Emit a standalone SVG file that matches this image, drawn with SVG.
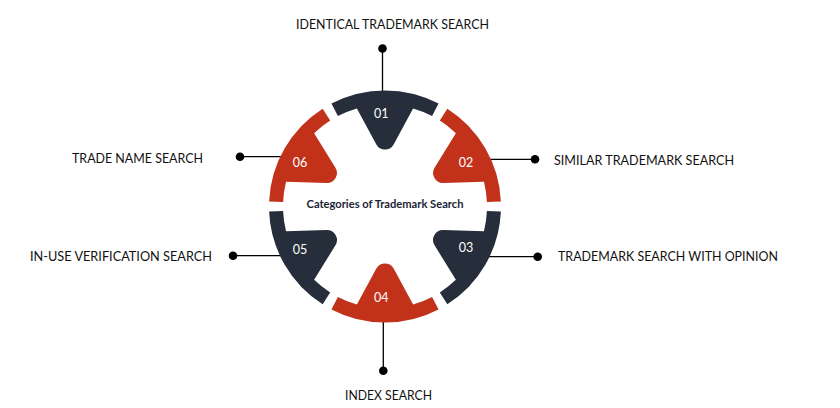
<svg xmlns="http://www.w3.org/2000/svg" width="840" height="408" viewBox="0 0 840 408">
  <defs>
    <style>
      .lbl { font-family: "Lato", "Liberation Sans", sans-serif; font-size: 13px; fill: #111111; }
      .num { font-family: "Lato", "Liberation Sans", sans-serif; font-size: 12.5px; fill: #ffffff; text-anchor: middle; }
      .title { font-family: "Lato", "Liberation Sans", sans-serif; font-size: 10.5px; font-weight: bold; fill: #1c2536; text-anchor: middle; }
      .lead { stroke: #000000; stroke-width: 1.3; fill: none; }
      .dot { fill: #000000; }
      .dark { fill: #262e3b; }
      .red { fill: #c2321b; }
    </style>
    <path id="seg" d="M -53.56,-102.9 A 116 116 0 0 1 53.56,-102.9 L 47.09,-90.47 A 102 102 0 0 0 28.1,-98.05 L 8.8,-62.3 A 10 10 0 0 1 -8.8,-62.3 L -28.1,-98.05 A 102 102 0 0 0 -47.09,-90.47 Z"/>
  </defs>
  <rect width="840" height="408" fill="#ffffff"/>

  <g id="connectors">
    <line class="lead" x1="382.5" y1="48.5" x2="382.5" y2="95"/>
    <circle class="dot" cx="382.5" cy="48.5" r="4.3"/>
    <line class="lead" x1="488" y1="159.3" x2="535" y2="159.3"/>
    <circle class="dot" cx="535" cy="159.3" r="4.3"/>
    <line class="lead" x1="488" y1="256.7" x2="537.7" y2="256.7"/>
    <circle class="dot" cx="537.7" cy="256.7" r="4.3"/>
    <line class="lead" x1="383.3" y1="318" x2="383.3" y2="370.7"/>
    <circle class="dot" cx="383.3" cy="370.7" r="4.3"/>
    <line class="lead" x1="233" y1="255.7" x2="281" y2="255.7"/>
    <circle class="dot" cx="233" cy="255.7" r="4.3"/>
    <line class="lead" x1="240" y1="156.7" x2="287" y2="156.7"/>
    <circle class="dot" cx="240" cy="156.7" r="4.3"/>
  </g>

  <g id="node-01">
    <use href="#seg" class="dark" transform="translate(385,206.5)"/>
    <text class="num" x="381.3" y="117.5">01</text>
    <text class="lbl" x="296" y="29" textLength="193" lengthAdjust="spacingAndGlyphs">IDENTICAL TRADEMARK SEARCH</text>
  </g>
  <g id="node-02">
    <use href="#seg" class="red" transform="translate(385,206.5) rotate(60)"/>
    <text class="num" x="466" y="166.7">02</text>
    <text class="lbl" x="554" y="164.5" textLength="180" lengthAdjust="spacingAndGlyphs">SIMILAR TRADEMARK SEARCH</text>
  </g>
  <g id="node-03">
    <use href="#seg" class="dark" transform="translate(385,206.5) rotate(120)"/>
    <text class="num" x="466" y="251.7">03</text>
    <text class="lbl" x="558" y="260.5" textLength="220" lengthAdjust="spacingAndGlyphs">TRADEMARK SEARCH WITH OPINION</text>
  </g>
  <g id="node-04">
    <use href="#seg" class="red" transform="translate(385,206.5) rotate(180)"/>
    <text class="num" x="381.3" y="302.3">04</text>
    <text class="lbl" x="345" y="399.5" textLength="87" lengthAdjust="spacingAndGlyphs">INDEX SEARCH</text>
  </g>
  <g id="node-05">
    <use href="#seg" class="dark" transform="translate(385,206.5) rotate(240)"/>
    <text class="num" x="300" y="254.3">05</text>
    <text class="lbl" x="30" y="260.5" textLength="182" lengthAdjust="spacingAndGlyphs">IN-USE VERIFICATION SEARCH</text>
  </g>
  <g id="node-06">
    <use href="#seg" class="red" transform="translate(385,206.5) rotate(300)"/>
    <text class="num" x="300" y="166.7">06</text>
    <text class="lbl" x="72" y="163.3" textLength="131" lengthAdjust="spacingAndGlyphs">TRADE NAME SEARCH</text>
  </g>

  <g id="center">
    <text class="title" x="385" y="207.5" textLength="157" lengthAdjust="spacingAndGlyphs">Categories of Trademark Search</text>
  </g>
</svg>
